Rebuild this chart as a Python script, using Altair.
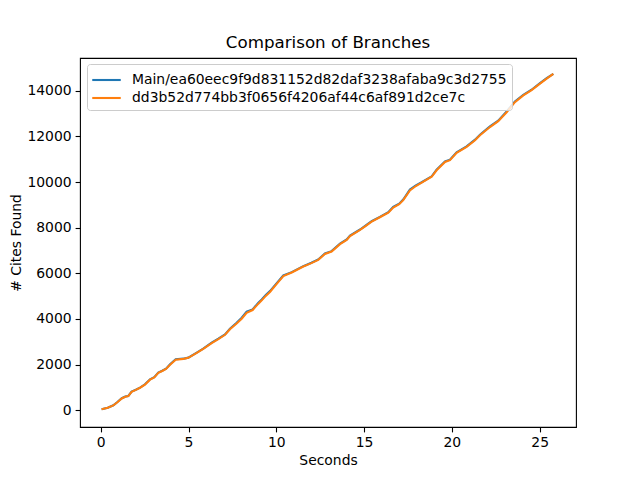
import altair as alt
import pandas as pd

seconds = [0.05, 0.4, 0.72, 0.95, 1.2, 1.4, 1.57, 1.76, 2.0, 2.24, 2.52, 2.81, 3.05, 3.28, 3.5,
           3.72, 3.95, 4.27, 4.71, 4.99, 5.47, 5.84, 6.32, 6.7, 7.08, 7.36, 7.74, 8.03, 8.31,
           8.65, 8.98, 9.17, 9.4, 9.64, 10.0, 10.4, 10.88, 11.54, 12.0, 12.39, 12.77, 13.15,
           13.63, 14.01, 14.2, 14.77, 15.1, 15.43, 15.9, 16.38, 16.66, 17.0, 17.23, 17.61,
           17.95, 18.28, 18.85, 19.13, 19.61, 19.89, 20.27, 20.84, 21.32, 21.6, 22.17, 22.64,
           23.12, 23.59, 24.07, 24.54, 25.02, 25.4, 25.78]

main_cites = [44, 110, 219, 360, 525, 600, 626, 818, 900, 993, 1137, 1356, 1450, 1649, 1730,
              1824, 2012, 2231, 2260, 2304, 2523, 2698, 2961, 3136, 3325, 3573, 3836, 4055, 4318,
              4419, 4712, 4856, 5050, 5220, 5550, 5906, 6051, 6313, 6460, 6606, 6869, 6971,
              7306, 7481, 7656, 7919, 8100, 8283, 8473, 8677, 8910, 9050, 9231, 9669,
              9850, 9990, 10251, 10544, 10907, 10981, 11301, 11563, 11856, 12075, 12438, 12688,
              13094, 13532, 13825, 14044, 14336, 14550, 14744]

branch_cites = [40, 105, 212, 350, 515, 592, 620, 805, 890, 985, 1125, 1340, 1440, 1635, 1720,
                1812, 1995, 2215, 2250, 2295, 2510, 2685, 2945, 3120, 3305, 3545, 3800, 4010, 4270,
                4390, 4670, 4815, 5010, 5185, 5515, 5880, 6035, 6295, 6445, 6590, 6845, 6955,
                7280, 7460, 7630, 7900, 8080, 8262, 8455, 8660, 8885, 9030, 9205, 9630,
                9825, 9970, 10230, 10515, 10880, 10960, 11280, 11540, 11830, 12050, 12410, 12665,
                13060, 13500, 13800, 14025, 14310, 14530, 14735]

series_names = ["Main/ea60eec9f9d831152d82daf3238afaba9c3d2755",
                "dd3b52d774bb3f0656f4206af44c6af891d2ce7c"]
series_colors = ["#1f77b4", "#ff7f0e"]

df = pd.DataFrame({
    "Seconds": seconds * 2,
    "Cites": main_cites + branch_cites,
    "Branch": [series_names[0]] * len(seconds) + [series_names[1]] * len(seconds),
})

font = "DejaVu Sans"

x_enc = alt.X("Seconds:Q",
              scale=alt.Scale(domain=[-1.18, 27.07], nice=False, zero=False),
              axis=alt.Axis(values=[0, 5, 10, 15, 20, 25], title="Seconds", format="d",
                            titlePadding=4))
y_enc = alt.Y("Cites:Q",
              scale=alt.Scale(domain=[-735, 15435], nice=False, zero=False),
              axis=alt.Axis(values=list(range(0, 14001, 2000)), title="# Cites Found",
                            format="d", titlePadding=3))
color_enc = alt.Color("Branch:N",
                      scale=alt.Scale(domain=series_names, range=series_colors),
                      legend=alt.Legend(title=None, orient="none", legendX=7, legendY=6,
                                        symbolType="M-1.5,0L1.5,0", symbolSize=361,
                                        symbolStrokeWidth=2.1, labelFontSize=13.9,
                                        labelFont=font, labelColor="black",
                                        symbolOffset=3.5, labelOffset=14.5,
                                        rowPadding=0, padding=5,
                                        strokeColor="#cccccc", fillColor="rgba(255,255,255,0.8)",
                                        cornerRadius=3, labelLimit=600))

base = alt.Chart(df).mark_line(strokeWidth=2.1, clip=True).encode(x=x_enc, y=y_enc, color=color_enc)

blue = base.transform_filter(alt.datum.Branch == series_names[0])
orange = base.transform_filter(alt.datum.Branch == series_names[1])

chart = alt.layer(blue, orange).properties(
    width=496, height=369,
    background="white",
    title=alt.TitleParams("Comparison of Branches", fontSize=16.7, font=font,
                          fontWeight="normal", color="black", anchor="middle", offset=6),
    autosize=alt.AutoSizeParams(type="none"),
    padding={"left": 72, "top": 50, "right": 56, "bottom": 45},
).configure_view(
    stroke="black", strokeWidth=1.1
).configure_axis(
    grid=False, domain=False, tickColor="black", tickWidth=1.1, tickSize=4.9,
    labelFont=font, labelFontSize=13.9, labelColor="black", labelPadding=4,
    titleFont=font, titleFontSize=13.9, titleFontWeight="normal", titleColor="black",
)

chart.save("out.html", embed_options={"renderer": "svg", "actions": False})
